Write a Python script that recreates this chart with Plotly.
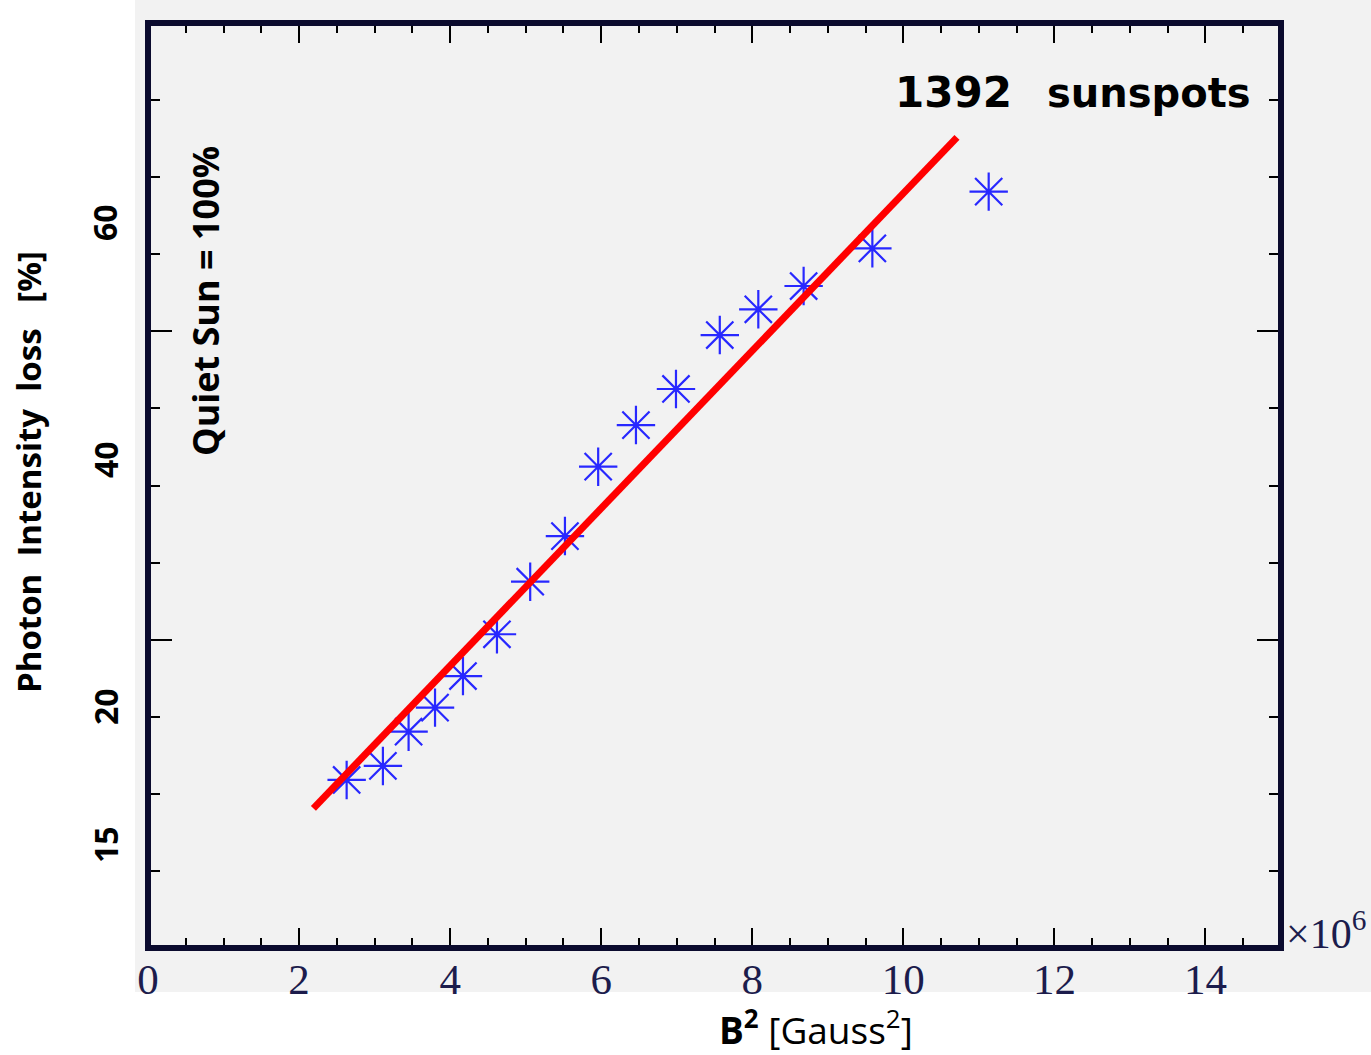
import plotly.graph_objects as go

# ---------------- data ----------------
b2_values = [2.63, 3.11, 3.45, 3.80, 4.17, 4.62, 5.06, 5.52, 5.96, 6.46,
             6.99, 7.57, 8.08, 8.68, 9.59, 11.13]            # x 10^6 Gauss^2
loss_values = [10.90, 11.81, 14.03, 15.59, 17.64, 20.35, 23.76, 26.72, 31.22,
               33.92, 36.26, 39.76, 41.43, 42.94, 45.38, 49.06]
fit_x = [2.19, 10.71]
fit_y = [9.06, 52.58]

x_tick_vals = [0, 2, 4, 6, 8, 10, 12, 14]
x_tick_text = ["0", "2", "4", "6", "8", "10", "12", "14"]
y_label_vals = [6.68, 15.63, 31.65, 47.03]
y_label_text = ["15", "20", "40", "60"]

# ---------------- layout geometry ----------------
W, H = 1371, 1055
L, R, T, B = 148, 90, 23, 107
PW, PH = W - L - R, H - T - B


def px(xp):
    return (xp - L) / PW


def py(yp):
    return (H - B - yp) / PH


frame_col = "#0b0b2e"
blue = "rgb(40,40,255)"

fig = go.Figure()

fig.add_trace(go.Scatter(
    x=b2_values, y=loss_values, mode="markers",
    marker=dict(symbol="asterisk-open", size=32,
                line=dict(color=blue, width=2.2), color=blue),
    showlegend=False, hoverinfo="skip"))

fig.add_trace(go.Scatter(
    x=fit_x, y=fit_y, mode="lines",
    line=dict(color="#ff0000", width=7),
    showlegend=False, hoverinfo="skip"))

tick_common = dict(ticks="inside", tickcolor="black", tickwidth=2,
                   mirror="ticks", showline=False, showgrid=False,
                   zeroline=False)

fig.update_xaxes(range=[0, 15], tickmode="array", tickvals=x_tick_vals,
                 ticktext=x_tick_text, ticklen=20,
                 minor=dict(dtick=0.5, tick0=0, ticks="inside", ticklen=10,
                            tickwidth=2, tickcolor="black", showgrid=False),
                 tickfont=dict(family="Liberation Serif", size=43,
                               color="#1c1c4c"),
                 ticklabelstandoff=2,
                 **tick_common)
fig.update_yaxes(range=[0, 60], dtick=20, tick0=0, ticklen=24,
                 showticklabels=False,
                 minor=dict(dtick=5, tick0=0, ticks="inside", ticklen=12,
                            tickwidth=2, tickcolor="black", showgrid=False),
                 **tick_common)

shapes = [
    dict(type="rect", xref="paper", yref="paper",
         x0=px(135), x1=px(1371), y0=py(992), y1=py(0),
         fillcolor="#f2f2f2", line=dict(width=0), layer="below"),
    dict(type="rect", xref="paper", yref="paper", x0=0, x1=1, y0=0, y1=1,
         line=dict(color=frame_col, width=6), layer="above"),
]

sans_bold = "Open Sans"
annotations = []
for v, t in zip(y_label_vals, y_label_text):
    annotations.append(dict(
        xref="paper", yref="y", x=px(105), y=v, text="<b>" + t + "</b>",
        showarrow=False, textangle=-90, xanchor="center", yanchor="middle",
        font=dict(family=sans_bold, size=32, color="black")))

annotations += [
    dict(xref="paper", yref="paper", x=px(28), y=py(472),
         text="<b>Photon  Intensity  loss   [%]</b>", textangle=-90,
         showarrow=False, xanchor="center", yanchor="middle",
         font=dict(family=sans_bold, size=33, color="black")),
    dict(xref="paper", yref="paper", x=px(205), y=py(301),
         text="<b>Quiet Sun = 100%</b>", textangle=-90,
         showarrow=False, xanchor="center", yanchor="middle",
         font=dict(family=sans_bold, size=36, color="black")),
    dict(xref="paper", yref="paper", x=px(953), y=py(92),
         text="<b>1392</b>", showarrow=False, xanchor="center",
         yanchor="middle",
         font=dict(family="DejaVu Sans", size=42, color="black")),
    dict(xref="paper", yref="paper", x=px(1149), y=py(93),
         text="<b>sunspots</b>", showarrow=False, xanchor="center",
         yanchor="middle",
         font=dict(family="DejaVu Sans", size=40, color="black")),
    dict(xref="paper", yref="paper", x=px(1284), y=py(930),
         text="×10<sup>6</sup>", showarrow=False, xanchor="left",
         yanchor="middle",
         font=dict(family="Liberation Serif", size=42, color="#1c1c4c")),
    dict(xref="paper", yref="paper", x=px(816), y=py(1027),
         text="<b>B<sup>2</sup></b> [Gauss<sup>2</sup>]", showarrow=False,
         xanchor="center", yanchor="middle",
         font=dict(family=sans_bold, size=37, color="black")),
]

fig.update_layout(
    width=W, height=H,
    margin=dict(l=L, r=R, t=T, b=B, pad=0),
    paper_bgcolor="white", plot_bgcolor="#f2f2f2",
    shapes=shapes, annotations=annotations,
    showlegend=False,
)

fig.write_html("out.html")
